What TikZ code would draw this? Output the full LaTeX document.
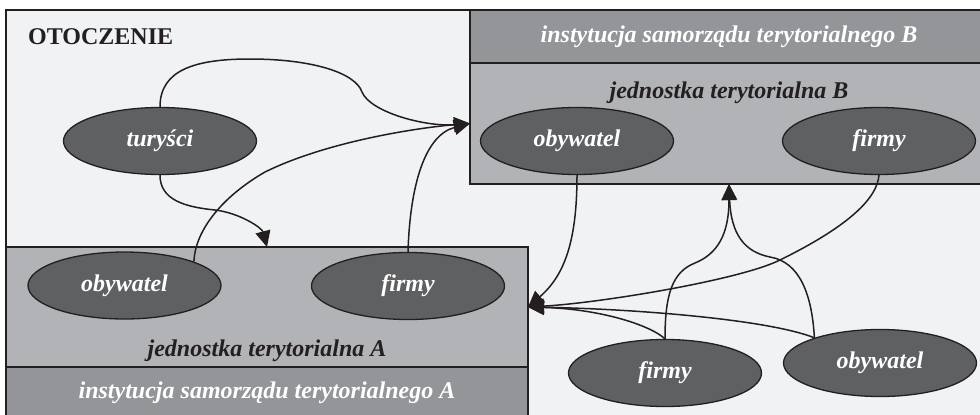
\documentclass[tikz,border=0pt]{standalone}
\usepackage{fontspec}
\setmainfont{Liberation Serif}
\usepackage{xcolor}
\usepackage{tikz}
\usetikzlibrary{arrows.meta,positioning,shapes.geometric}
\definecolor{otoczenie}{HTML}{F1F2F4}
\definecolor{instgray}{HTML}{939598}
\definecolor{jedngray}{HTML}{B1B3B6}
\definecolor{ellgray}{HTML}{5F6062}
\definecolor{ink}{HTML}{231F20}
\newcommand{\etykieta}{\fontsize{24}{28}\selectfont\bfseries\itshape}
\tikzset{
  instbox/.style={rectangle,draw=ink,line width=2pt,fill=instgray,outer sep=0pt,
                  inner sep=0pt,font=\etykieta,text=white},
  jedbox/.style={rectangle,draw=ink,line width=2pt,fill=jedngray,outer sep=0pt},
  jedtext/.style={font=\etykieta,text=ink,inner sep=0pt},
  insttext/.style={font=\etykieta,text=white,inner sep=0pt},
  podmiot/.style={ellipse,draw=ink,line width=1.3pt,fill=ellgray,minimum width=193pt,
                  minimum height=67pt,inner sep=0pt,font=\etykieta,text=white},
  arr/.style={-{Triangle[length=16pt,width=15pt]},line width=1.5pt,draw=ink},
}

\begin{document}
\begin{tikzpicture}[x=1pt,y=-1pt]
    \useasboundingbox (0,0) rectangle (980,415);
    \clip (0,0) rectangle (980,415);

    % otoczenie
    \draw[line width=2pt,draw=ink,fill=otoczenie] (6,10) rectangle (995,430);
    \node[anchor=base west,inner sep=0pt,text=ink,
          font=\fontsize{24}{28}\selectfont\bfseries] (otocz) at (28,44) {OTOCZENIE};

    % jednostka B
    \node[instbox,anchor=north west,minimum width=518pt,minimum height=53pt] (instB) at (470,10)
        {instytucja samorządu terytorialnego B};
    \node[jedbox,below=0pt of instB,minimum width=518pt,minimum height=121pt] (jedB) {};
    \node[jedtext,below=18.5pt of jedB.north] (jedBlab) {jednostka terytorialna B};

    % jednostka A
    \node[jedbox,anchor=north west,minimum width=522pt,minimum height=120pt] (jedA) at (6,247) {};
    \node[instbox,below=0pt of jedA,minimum width=522pt,minimum height=60pt] (instA) {};
    \node[jedtext,above=5pt of jedA.south] (jedAlab) {jednostka terytorialna A};
    \node[insttext,below=14.5pt of instA.north] (instAlab) {instytucja samorządu terytorialnego A};

    % podmioty
    \node[podmiot] (turysci) at (160,141) {turyści};
    \node[podmiot] (obB) at (577,141) {obywatel};
    \node[podmiot] (firB) at (879,141) {firmy};
    \node[podmiot] (obA) at (124.5,285.5) {obywatel};
    \node[podmiot] (firA) at (408,286) {firmy};
    \node[podmiot] (firC) at (665,373) {firmy};
    \node[podmiot] (obC) at (880,363) {obywatel};

    % powiazania z B
    \draw[arr] (turysci.north) .. controls (160,70) and (195,59) .. (250,59)
        .. controls (310,59) and (355,72) .. (362,92)
        .. controls (370,112) and (425,127) .. (jedB.west);
    \draw[arr] (obA.19) .. controls (195,232) and (220,198) .. (265,172)
        .. controls (330,140) and (425,127) .. (jedB.west);
    \draw[arr] (firA.north) .. controls (410,185) and (425,135) .. (jedB.west);

    % powiazania z A
    \draw[arr] (turysci.south) .. controls (160,200) and (185,207) .. (215,210)
        .. controls (240,213) and (262,228) .. (jedA.north);
    \draw[arr] (obB.south) .. controls (577,240) and (565,275) .. (jedA.east);
    \draw[arr] (firB.south) .. controls (877,200) and (845,228) .. (780,260)
        .. controls (740,280) and (600,303) .. (jedA.east);
    \draw[arr] (firC.north) .. controls (650,325) and (600,309) .. (jedA.east);
    \draw[arr] (obC.159) .. controls (770,320) and (640,309) .. (jedA.east);

    % z otoczenia do B
    \draw[arr] (firC.north) .. controls (665,295) and (672,272) .. (695,263)
        .. controls (717,254) and (729,235) .. (jedB.south);
    \draw[arr] (obC.159) .. controls (812,295) and (800,262) .. (770,257)
        .. controls (745,252) and (731,235) .. (jedB.south);
\end{tikzpicture}
\end{document}
